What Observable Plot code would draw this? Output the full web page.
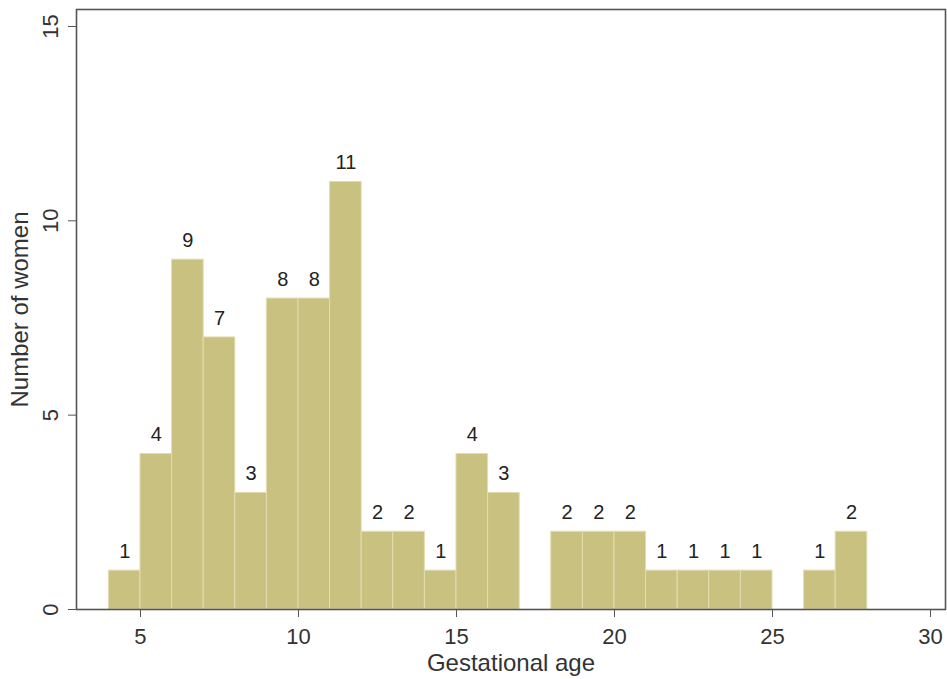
<!DOCTYPE html>
<html>
<head>
<meta charset="utf-8">
<script src="https://cdn.jsdelivr.net/npm/d3@7"></script>
<script src="https://cdn.jsdelivr.net/npm/@observablehq/plot@0.6"></script>
<style>
  html, body { margin: 0; padding: 0; background: #fff; }
  #chart svg { display: block; }
</style>
</head>
<body>
<div id="chart"></div>
<script>
// Histogram bins (gestational age, weeks) and counts of women
const binStart = [4, 5, 6, 7, 8, 9, 10, 11, 12, 13, 14, 15, 16, 17, 18, 19, 20, 21, 22, 23, 24, 25, 26, 27];
const binEnd   = [5, 6, 7, 8, 9, 10, 11, 12, 13, 14, 15, 16, 17, 18, 19, 20, 21, 22, 23, 24, 25, 26, 27, 28];
const counts   = [1, 4, 9, 7, 3, 8, 8, 11, 2, 2, 1, 4, 3, 0, 2, 2, 2, 1, 1, 1, 1, 0, 1, 2];
const xTicks = [5, 10, 15, 20, 25, 30];
const yTicks = [0, 5, 10, 15];

const bins = binStart.map((s, i) => ({x1: s, x2: binEnd[i], count: counts[i]})).filter(d => d.count > 0);

const font = "'Liberation Sans', Arial, Helvetica, sans-serif";

const chart = Plot.plot({
  width: 947,
  height: 679,
  marginLeft: 76,
  marginRight: 2,
  marginTop: 9,
  marginBottom: 70,
  style: {fontFamily: font, fontSize: "22px", color: "#333", background: "#fff"},
  x: {domain: [2.975, 30.475]},
  y: {domain: [0, 15.437]},
  marks: [
    Plot.rectY(bins, {x1: "x1", x2: "x2", y: "count", fill: "#c9c17f", stroke: "#e2ddb0", strokeWidth: 1}),
    Plot.text(bins, {x: d => (d.x1 + d.x2) / 2, y: "count", text: d => String(d.count), dy: -19, fontSize: 20, fill: "#222"}),
    Plot.frame({stroke: "#555", strokeWidth: 1.6}),
    Plot.axisX({ticks: xTicks, tickSize: 8, tickPadding: 11, tickFormat: d => String(d), stroke: "#555", fill: "#333", label: null}),
    Plot.axisX({ticks: [], label: "Gestational age", labelAnchor: "center", labelArrow: "none", labelOffset: 61, fontSize: 24, fill: "#333"}),
    Plot.axisY({ticks: yTicks, tickSize: 8, tickPadding: 11, tickRotate: -90, tickFormat: d => String(d), stroke: "#555", fill: "#333", label: null}),
    Plot.axisY({ticks: [], label: "Number of women", labelAnchor: "center", labelArrow: "none", labelOffset: 66, fontSize: 24, fill: "#333"})
  ]
});
document.getElementById("chart").appendChild(chart);
</script>
</body>
</html>
